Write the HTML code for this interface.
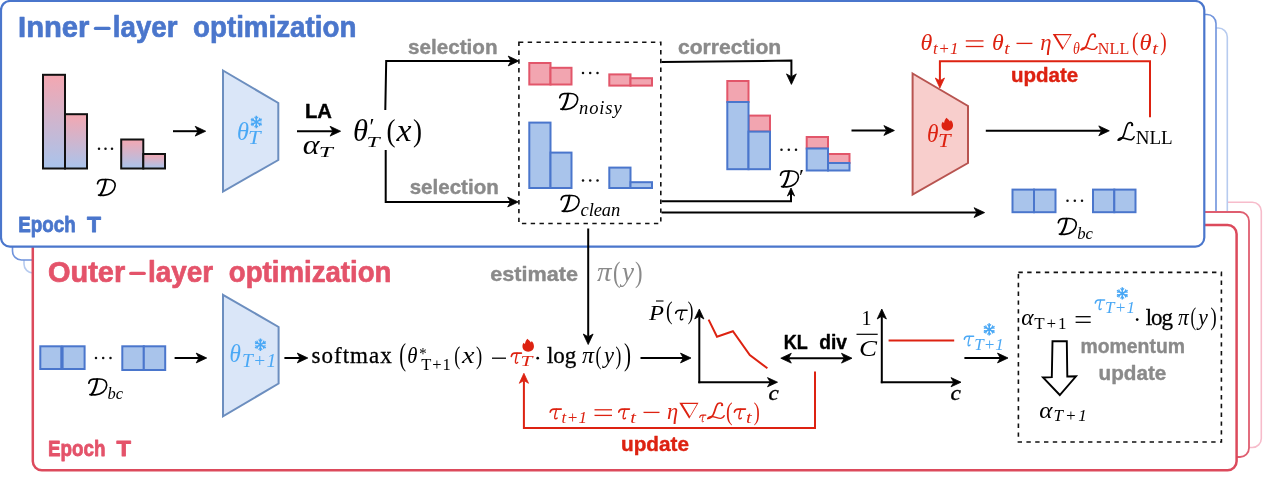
<!DOCTYPE html>
<html><head><meta charset="utf-8"><title>diagram</title>
<style>html,body{margin:0;padding:0;background:#fff;}svg{display:block}text{white-space:pre}</style></head>
<body><svg style="will-change:transform" width="1268" height="480" viewBox="0 0 1268 480">
<rect width="1268" height="480" fill="#fff"/>
<defs>
<linearGradient id="pb" x1="0" y1="0" x2="0" y2="1"><stop offset="0" stop-color="#f4a7b1"/><stop offset="1" stop-color="#a9c4ec"/></linearGradient>
</defs>
<rect x="57.5" y="202.3" width="1203.8" height="245.2" rx="9" ry="9" fill="#fff" stroke="#f7bccb" stroke-width="1.6"/>
<rect x="24" y="28" width="1203.3" height="245.0" rx="9" ry="9" fill="#fff" stroke="#b7cbef" stroke-width="1.6"/>
<rect x="12.5" y="14.5" width="1203.5" height="245.5" rx="9" ry="9" fill="#fff" stroke="#6f93dc" stroke-width="1.6"/>
<rect x="45" y="212" width="1204.0" height="245.0" rx="9" ry="9" fill="#fff" stroke="#df5e70" stroke-width="1.8"/>
<rect x="32.8" y="225" width="1203.8" height="245.3" rx="9" ry="9" fill="#fff" stroke="#dc4a5c" stroke-width="2.5"/>
<rect x="1" y="1" width="1203.3" height="245.6" rx="9" ry="9" fill="#fff" stroke="#4a76cc" stroke-width="2.2"/>
<text x="18" y="37.3" font-family="Liberation Sans, sans-serif" font-weight="bold" font-size="29.5" fill="#4a76cc" stroke="#4a76cc" stroke-width="0.7" stroke-linejoin="round" textLength="71.5" lengthAdjust="spacingAndGlyphs">Inner</text>
<line x1="95.5" y1="28.4" x2="109" y2="28.4" stroke="#4a76cc" stroke-width="3.4" stroke-linecap="round"/>
<text x="112.8" y="37.3" font-family="Liberation Sans, sans-serif" font-weight="bold" font-size="29.5" fill="#4a76cc" stroke="#4a76cc" stroke-width="0.7" stroke-linejoin="round" textLength="64.7" lengthAdjust="spacingAndGlyphs">layer</text>
<text x="193" y="37.3" font-family="Liberation Sans, sans-serif" font-weight="bold" font-size="29.5" fill="#4a76cc" stroke="#4a76cc" stroke-width="0.7" stroke-linejoin="round" textLength="163.4" lengthAdjust="spacingAndGlyphs">optimization</text>
<text x="48" y="282.3" font-family="Liberation Sans, sans-serif" font-weight="bold" font-size="29.5" fill="#e4536a" stroke="#e4536a" stroke-width="0.7" stroke-linejoin="round" textLength="77.2" lengthAdjust="spacingAndGlyphs">Outer</text>
<line x1="130.8" y1="273.4" x2="144.2" y2="273.4" stroke="#e4536a" stroke-width="3.4" stroke-linecap="round"/>
<text x="147.9" y="282.3" font-family="Liberation Sans, sans-serif" font-weight="bold" font-size="29.5" fill="#e4536a" stroke="#e4536a" stroke-width="0.7" stroke-linejoin="round" textLength="65.3" lengthAdjust="spacingAndGlyphs">layer</text>
<text x="228.8" y="282.3" font-family="Liberation Sans, sans-serif" font-weight="bold" font-size="29.5" fill="#e4536a" stroke="#e4536a" stroke-width="0.7" stroke-linejoin="round" textLength="162.7" lengthAdjust="spacingAndGlyphs">optimization</text>
<text x="18.2" y="232" font-family="Liberation Sans, sans-serif" font-weight="bold" font-size="22.5" fill="#4a76cc" stroke="#4a76cc" stroke-width="0.8" stroke-linejoin="round" textLength="57.5" lengthAdjust="spacingAndGlyphs">Epoch</text>
<text x="87" y="232" font-family="Liberation Sans, sans-serif" font-weight="bold" font-size="22.5" fill="#4a76cc" stroke="#4a76cc" stroke-width="0.8" stroke-linejoin="round" textLength="14.0" lengthAdjust="spacingAndGlyphs">T</text>
<text x="48" y="456" font-family="Liberation Sans, sans-serif" font-weight="bold" font-size="22.5" fill="#e4536a" stroke="#e4536a" stroke-width="0.8" stroke-linejoin="round" textLength="57.5" lengthAdjust="spacingAndGlyphs">Epoch</text>
<text x="116.5" y="456" font-family="Liberation Sans, sans-serif" font-weight="bold" font-size="22.5" fill="#e4536a" stroke="#e4536a" stroke-width="0.8" stroke-linejoin="round" textLength="14.5" lengthAdjust="spacingAndGlyphs">T</text>
<rect x="43.0" y="74.8" width="22.0" height="93.7" fill="url(#pb)" stroke="#111" stroke-width="2" />
<rect x="65.0" y="114.2" width="22.0" height="54.3" fill="url(#pb)" stroke="#111" stroke-width="2" />
<rect x="121.2" y="139.5" width="22.1" height="29.0" fill="url(#pb)" stroke="#111" stroke-width="2" />
<rect x="143.3" y="154.0" width="21.7" height="14.5" fill="url(#pb)" stroke="#111" stroke-width="2" />
<circle cx="99.0" cy="148.8" r="1.25" fill="#111"/>
<circle cx="105.5" cy="148.8" r="1.25" fill="#111"/>
<circle cx="112.0" cy="148.8" r="1.25" fill="#111"/>
<g transform="translate(97,196) scale(0.1682,0.1700)" fill="none" stroke="#000" stroke-linecap="round" stroke-linejoin="round"><path d="M52,-95 C47,-60 37,-30 19,-5" stroke-width="13"/><path d="M3,-72 C6,-88 15,-95 30,-96 L62,-97 C92,-98 110,-84 108,-60 C105,-30 78,-4 40,-4 L9,-5" stroke-width="9.5"/></g>
<polyline points="173.0,131.2 198.0,131.2" fill="none" stroke="#000" stroke-width="2" stroke-linejoin="miter"/>
<polygon points="205.7,131.2 195.2,136.1 198.0,131.2 195.2,126.3" fill="#000" stroke="#000" stroke-width="0.8" stroke-linejoin="miter"/>
<polygon points="223,70.5 278.3,103 278.3,160 223,191.5" fill="#dae6f8" stroke="#6c8ebf" stroke-width="2"/>
<text x="237" y="139.7" font-family="Liberation Serif, serif" font-style="italic" font-size="26" fill="#4aa8f5" textLength="12.0" lengthAdjust="spacingAndGlyphs">θ</text>
<text transform="matrix(0.2262,0,0,0.1802,248.03,144.00)" x="0" y="0" font-family="Liberation Serif, serif" font-style="italic" font-size="100" fill="#4aa8f5">T</text>
<path d="M256.30,115.80L256.30,128.20 M261.67,118.90L250.93,125.10 M261.67,125.10L250.93,118.90" stroke="#4aa8f5" stroke-width="1.55" fill="none"/>
<path d="M256.30,125.10L254.81,126.76 M256.30,125.10L257.79,126.76 M256.30,118.90L257.79,117.24 M256.30,118.90L254.81,117.24 M253.62,123.55L251.43,123.09 M253.62,123.55L252.93,125.67 M258.98,120.45L261.17,120.91 M258.98,120.45L259.67,118.33 M253.62,120.45L252.93,118.33 M253.62,120.45L251.43,120.91 M258.98,123.55L259.67,125.67 M258.98,123.55L261.17,123.09" stroke="#4aa8f5" stroke-width="1.15" fill="none" stroke-linecap="round"/>
<text x="305" y="118" font-family="Liberation Sans, sans-serif" font-weight="bold" font-size="21" fill="#000" stroke="#000" stroke-width="0.4" stroke-linejoin="round" textLength="27.0" lengthAdjust="spacingAndGlyphs">LA</text>
<polyline points="297.0,131.2 332.9,131.2" fill="none" stroke="#000" stroke-width="2" stroke-linejoin="miter"/>
<polygon points="340.6,131.2 330.1,136.1 332.9,131.2 330.1,126.3" fill="#000" stroke="#000" stroke-width="0.8" stroke-linejoin="miter"/>
<text x="302.7" y="153.8" font-family="Liberation Serif, serif" font-style="italic" font-size="27" fill="#000" textLength="16.8" lengthAdjust="spacingAndGlyphs">α</text>
<text transform="matrix(0.2516,0,0,0.1557,318.76,157.00)" x="0" y="0" font-family="Liberation Serif, serif" font-style="italic" font-size="100" fill="#000">T</text>
<text x="353" y="140.8" font-family="Liberation Serif, serif" font-style="italic" font-size="30.5" fill="#000" textLength="15.0" lengthAdjust="spacingAndGlyphs">θ</text>
<text x="369.5" y="134" font-family="Liberation Serif, serif" font-style="normal" font-size="23" fill="#000" textLength="5.0" lengthAdjust="spacingAndGlyphs">′</text>
<text transform="matrix(0.2353,0,0,0.1557,366.47,147.20)" x="0" y="0" font-family="Liberation Serif, serif" font-style="italic" font-size="100" fill="#000">T</text>
<text x="386.5" y="140.5" font-family="Liberation Serif, serif" font-style="normal" font-size="31.1" fill="#000" textLength="9.0" lengthAdjust="spacingAndGlyphs">(</text>
<text x="396.5" y="140.8" font-family="Liberation Serif, serif" font-style="italic" font-size="31" fill="#000" textLength="15.0" lengthAdjust="spacingAndGlyphs">x</text>
<text x="413" y="140.5" font-family="Liberation Serif, serif" font-style="normal" font-size="31.1" fill="#000" textLength="9.0" lengthAdjust="spacingAndGlyphs">)</text>
<polyline points="385.3,110.0 386.2,61.0 511.0,61.0" fill="none" stroke="#000" stroke-width="2" stroke-linejoin="miter"/>
<polygon points="518.7,61.0 508.2,65.9 511.0,61.0 508.2,56.1" fill="#000" stroke="#000" stroke-width="0.8" stroke-linejoin="miter"/>
<polyline points="385.7,150.0 385.7,202.0 510.5,202.0" fill="none" stroke="#000" stroke-width="2" stroke-linejoin="miter"/>
<polygon points="518.2,202.0 507.7,206.9 510.5,202.0 507.7,197.1" fill="#000" stroke="#000" stroke-width="0.8" stroke-linejoin="miter"/>
<text x="408" y="54" font-family="Liberation Sans, sans-serif" font-weight="bold" font-size="21" fill="#8a8a8a" stroke="#8a8a8a" stroke-width="0.4" stroke-linejoin="round" textLength="89.5" lengthAdjust="spacingAndGlyphs">selection</text>
<text x="409.7" y="194" font-family="Liberation Sans, sans-serif" font-weight="bold" font-size="21" fill="#8a8a8a" stroke="#8a8a8a" stroke-width="0.4" stroke-linejoin="round" textLength="89.1" lengthAdjust="spacingAndGlyphs">selection</text>
<rect x="518.9" y="42.3" width="141.9" height="181.2" fill="none" stroke="#111" stroke-width="1.6" stroke-dasharray="4.4,4.4"/>
<rect x="529.3" y="63.0" width="21.2" height="21.5" fill="#f2a5b0" stroke="#e2566a" stroke-width="2.0" />
<rect x="550.5" y="67.8" width="21.0" height="16.7" fill="#f2a5b0" stroke="#e2566a" stroke-width="2.0" />
<circle cx="583.0" cy="73" r="1.25" fill="#111"/>
<circle cx="590.2" cy="73" r="1.25" fill="#111"/>
<circle cx="597.5" cy="73" r="1.25" fill="#111"/>
<rect x="609.3" y="74.4" width="21.2" height="11.2" fill="#f2a5b0" stroke="#e2566a" stroke-width="2.0" />
<rect x="630.5" y="78.2" width="21.5" height="7.4" fill="#f2a5b0" stroke="#e2566a" stroke-width="2.0" />
<g transform="translate(559.2,110) scale(0.1709,0.1700)" fill="none" stroke="#000" stroke-linecap="round" stroke-linejoin="round"><path d="M52,-95 C47,-60 37,-30 19,-5" stroke-width="13"/><path d="M3,-72 C6,-88 15,-95 30,-96 L62,-97 C92,-98 110,-84 108,-60 C105,-30 78,-4 40,-4 L9,-5" stroke-width="9.5"/></g>
<text x="579" y="113.8" font-family="Liberation Serif, serif" font-style="italic" font-size="18.5" fill="#000" textLength="42.7" lengthAdjust="spacing">noisy</text>
<rect x="529.3" y="122.6" width="21.2" height="65.4" fill="#a9c4eb" stroke="#4a76cc" stroke-width="2.0" />
<rect x="550.5" y="152.6" width="21.0" height="35.4" fill="#a9c4eb" stroke="#4a76cc" stroke-width="2.0" />
<circle cx="583.0" cy="180.6" r="1.25" fill="#111"/>
<circle cx="590.2" cy="180.6" r="1.25" fill="#111"/>
<circle cx="597.5" cy="180.6" r="1.25" fill="#111"/>
<rect x="609.3" y="167.6" width="21.2" height="20.4" fill="#a9c4eb" stroke="#4a76cc" stroke-width="2.0" />
<rect x="630.5" y="182.2" width="21.5" height="5.8" fill="#a9c4eb" stroke="#4a76cc" stroke-width="2.0" />
<g transform="translate(560.6,212) scale(0.1709,0.1700)" fill="none" stroke="#000" stroke-linecap="round" stroke-linejoin="round"><path d="M52,-95 C47,-60 37,-30 19,-5" stroke-width="13"/><path d="M3,-72 C6,-88 15,-95 30,-96 L62,-97 C92,-98 110,-84 108,-60 C105,-30 78,-4 40,-4 L9,-5" stroke-width="9.5"/></g>
<text x="580.5" y="215.8" font-family="Liberation Serif, serif" font-style="italic" font-size="18.5" fill="#000" textLength="39.8" lengthAdjust="spacing">clean</text>
<text x="677.9" y="53.6" font-family="Liberation Sans, sans-serif" font-weight="bold" font-size="21" fill="#8a8a8a" stroke="#8a8a8a" stroke-width="0.4" stroke-linejoin="round" textLength="103.4" lengthAdjust="spacingAndGlyphs">correction</text>
<polyline points="661.5,62.0 791.4,60.6 791.4,76.7" fill="none" stroke="#000" stroke-width="2" stroke-linejoin="miter"/>
<polygon points="791.4,84.4 786.5,73.9 791.4,76.7 796.3,73.9" fill="#000" stroke="#000" stroke-width="0.8" stroke-linejoin="miter"/>
<rect x="727.3" y="81.0" width="21.2" height="21.0" fill="#f2a5b0" stroke="#e2566a" stroke-width="2.0" />
<rect x="748.5" y="115.6" width="21.5" height="16.0" fill="#f2a5b0" stroke="#e2566a" stroke-width="2.0" />
<rect x="727.3" y="102.0" width="21.2" height="67.2" fill="#a9c4eb" stroke="#4a76cc" stroke-width="2.0" />
<rect x="748.5" y="131.6" width="21.5" height="37.6" fill="#a9c4eb" stroke="#4a76cc" stroke-width="2.0" />
<circle cx="781.5" cy="149.8" r="1.25" fill="#111"/>
<circle cx="788.8" cy="149.8" r="1.25" fill="#111"/>
<circle cx="796.0" cy="149.8" r="1.25" fill="#111"/>
<rect x="806.7" y="137.0" width="21.3" height="11.5" fill="#f2a5b0" stroke="#e2566a" stroke-width="2.0" />
<rect x="828.0" y="154.0" width="21.5" height="9.0" fill="#f2a5b0" stroke="#e2566a" stroke-width="2.0" />
<rect x="806.7" y="148.5" width="21.3" height="22.0" fill="#a9c4eb" stroke="#4a76cc" stroke-width="2.0" />
<rect x="828.0" y="163.0" width="21.5" height="7.5" fill="#a9c4eb" stroke="#4a76cc" stroke-width="2.0" />
<g transform="translate(780,187.5) scale(0.1709,0.1700)" fill="none" stroke="#000" stroke-linecap="round" stroke-linejoin="round"><path d="M52,-95 C47,-60 37,-30 19,-5" stroke-width="13"/><path d="M3,-72 C6,-88 15,-95 30,-96 L62,-97 C92,-98 110,-84 108,-60 C105,-30 78,-4 40,-4 L9,-5" stroke-width="9.5"/></g>
<text x="799" y="184" font-family="Liberation Serif, serif" font-style="normal" font-size="20" fill="#000" textLength="5.0" lengthAdjust="spacingAndGlyphs">′</text>
<polyline points="661.5,201.3 791.0,201.3 791.0,193.2" fill="none" stroke="#000" stroke-width="2" stroke-linejoin="miter"/>
<polygon points="791.0,188.0 794.6,196.0 791.0,193.2 787.4,196.0" fill="#000" stroke="#000" stroke-width="0.8" stroke-linejoin="miter"/>
<polyline points="661.5,212.6 976.9,212.6" fill="none" stroke="#000" stroke-width="2" stroke-linejoin="miter"/>
<polygon points="984.6,212.6 974.1,217.5 976.9,212.6 974.1,207.7" fill="#000" stroke="#000" stroke-width="0.8" stroke-linejoin="miter"/>
<polyline points="851.5,130.5 886.7,130.5" fill="none" stroke="#000" stroke-width="2" stroke-linejoin="miter"/>
<polygon points="894.4,130.5 883.9,135.4 886.7,130.5 883.9,125.6" fill="#000" stroke="#000" stroke-width="0.8" stroke-linejoin="miter"/>
<polygon points="912.6,73.5 968,106 968,163 912.6,194.5" fill="#f8cecc" stroke="#b85450" stroke-width="2"/>
<text x="927" y="142.3" font-family="Liberation Serif, serif" font-style="italic" font-size="26" fill="#dd2211" textLength="11.5" lengthAdjust="spacingAndGlyphs">θ</text>
<text transform="matrix(0.2262,0,0,0.1817,938.03,146.70)" x="0" y="0" font-family="Liberation Serif, serif" font-style="italic" font-size="100" fill="#dd2211">T</text>
<g transform="translate(947.3,124.2) scale(1.15)"><path d="M-0.6,-5.7 C0.3,-4.6 1.6,-3.6 2.4,-2.4 C2.7,-2.8 2.9,-3.2 3,-3.6 C4.4,-2.4 5,-0.6 5,1 C5,3.8 2.8,5.7 0,5.7 C-2.8,5.7 -5,3.8 -5,1 C-5,-0.4 -4.6,-1.4 -3.9,-2.2 C-3.6,-1.6 -3.2,-1.2 -2.8,-1 C-2.6,-3 -1.8,-4.6 -0.6,-5.7 Z" fill="#dd2211"/></g>
<polyline points="985.8,130.8 1101.6,130.8" fill="none" stroke="#000" stroke-width="2" stroke-linejoin="miter"/>
<polygon points="1109.3,130.8 1098.8,135.7 1101.6,130.8 1098.8,125.9" fill="#000" stroke="#000" stroke-width="0.8" stroke-linejoin="miter"/>
<g transform="translate(1117.5,141) scale(0.1889,0.1900)" fill="none" stroke="#000" stroke-linecap="round" stroke-linejoin="round"><path d="M79,-84 C80,-96 68,-100 58,-94 C44,-84 43,-50 31,-26 C25,-14 15,-5 4,-5" stroke-width="9"/><path d="M4,-5 C8,-15 22,-19 36,-15 C52,-10 64,-4 74,-7 C82,-10 86,-16 88,-22" stroke-width="8"/><circle cx="77" cy="-83" r="6" fill="#000" stroke="none"/></g>
<text x="1135.8" y="144.2" font-family="Liberation Serif, serif" font-style="normal" font-size="19" fill="#000" textLength="36.7" lengthAdjust="spacing">NLL</text>
<polyline points="1150.0,117.2 1150.0,61.2 939.9,61.2 939.9,80.8" fill="none" stroke="#dd2211" stroke-width="2" stroke-linejoin="miter"/>
<polygon points="939.9,88.0 935.3,78.0 939.9,80.8 944.5,78.0" fill="#dd2211" stroke="#dd2211" stroke-width="0.8" stroke-linejoin="miter"/>
<text x="1011" y="82.3" font-family="Liberation Sans, sans-serif" font-weight="bold" font-size="21" fill="#dd2211" stroke="#dd2211" stroke-width="0.4" stroke-linejoin="round" textLength="67.2" lengthAdjust="spacingAndGlyphs">update</text>
<text x="920.6" y="50" font-family="Liberation Serif, serif" font-style="italic" font-size="23.5" fill="#dd2211" textLength="11.8" lengthAdjust="spacingAndGlyphs">θ</text>
<text x="933" y="53.7" font-family="Liberation Serif, serif" font-style="italic" font-size="17" fill="#dd2211" textLength="25.5" lengthAdjust="spacing">t+1</text>
<line x1="965.8" y1="40.90" x2="983.5" y2="40.90" stroke="#dd2211" stroke-width="1.3"/>
<line x1="965.8" y1="46.50" x2="983.5" y2="46.50" stroke="#dd2211" stroke-width="1.3"/>
<text x="992" y="50" font-family="Liberation Serif, serif" font-style="italic" font-size="23.5" fill="#dd2211" textLength="11.7" lengthAdjust="spacingAndGlyphs">θ</text>
<text x="1004.3" y="53.7" font-family="Liberation Serif, serif" font-style="italic" font-size="16" fill="#dd2211" textLength="5.4" lengthAdjust="spacingAndGlyphs">t</text>
<line x1="1016.5" y1="43.4" x2="1032.4" y2="43.4" stroke="#dd2211" stroke-width="1.3"/>
<text x="1040.3" y="50" font-family="Liberation Serif, serif" font-style="italic" font-size="23.5" fill="#dd2211" textLength="11.3" lengthAdjust="spacingAndGlyphs">η</text>
<path d="M1052.7,34 L1071.8,34 L1062.5,50.1 Z M1055.9,35.3 L1070.2,35.3 L1063.2,47.5 Z" fill="#dd2211" fill-rule="evenodd"/>
<text x="1073" y="53.7" font-family="Liberation Serif, serif" font-style="italic" font-size="16.5" fill="#dd2211" textLength="6.8" lengthAdjust="spacingAndGlyphs">θ</text>
<g transform="translate(1080.4,50.5) scale(0.1889,0.1700)" fill="none" stroke="#dd2211" stroke-linecap="round" stroke-linejoin="round"><path d="M79,-84 C80,-96 68,-100 58,-94 C44,-84 43,-50 31,-26 C25,-14 15,-5 4,-5" stroke-width="9"/><path d="M4,-5 C8,-15 22,-19 36,-15 C52,-10 64,-4 74,-7 C82,-10 86,-16 88,-22" stroke-width="8"/><circle cx="77" cy="-83" r="6" fill="#dd2211" stroke="none"/></g>
<text x="1097.8" y="53.7" font-family="Liberation Serif, serif" font-style="normal" font-size="16" fill="#dd2211" textLength="31.5" lengthAdjust="spacing">NLL</text>
<text x="1131.9" y="50.4" font-family="Liberation Serif, serif" font-style="normal" font-size="26.0" fill="#dd2211" textLength="6.4" lengthAdjust="spacingAndGlyphs">(</text>
<text x="1139.6" y="50" font-family="Liberation Serif, serif" font-style="italic" font-size="23.5" fill="#dd2211" textLength="12.1" lengthAdjust="spacingAndGlyphs">θ</text>
<text x="1152.3" y="53.7" font-family="Liberation Serif, serif" font-style="italic" font-size="16" fill="#dd2211" textLength="5.7" lengthAdjust="spacingAndGlyphs">t</text>
<text x="1160.2" y="50.4" font-family="Liberation Serif, serif" font-style="normal" font-size="26.0" fill="#dd2211" textLength="6.4" lengthAdjust="spacingAndGlyphs">)</text>
<rect x="1012.5" y="189.6" width="21.5" height="22.6" fill="#a9c4eb" stroke="#4a76cc" stroke-width="2.0" />
<rect x="1034.0" y="189.6" width="21.5" height="22.6" fill="#a9c4eb" stroke="#4a76cc" stroke-width="2.0" />
<circle cx="1067.5" cy="200.8" r="1.25" fill="#111"/>
<circle cx="1074.8" cy="200.8" r="1.25" fill="#111"/>
<circle cx="1082.0" cy="200.8" r="1.25" fill="#111"/>
<rect x="1093.0" y="189.6" width="21.3" height="22.6" fill="#a9c4eb" stroke="#4a76cc" stroke-width="2.0" />
<rect x="1114.3" y="189.6" width="21.2" height="22.6" fill="#a9c4eb" stroke="#4a76cc" stroke-width="2.0" />
<g transform="translate(1057.8,235) scale(0.1709,0.1700)" fill="none" stroke="#000" stroke-linecap="round" stroke-linejoin="round"><path d="M52,-95 C47,-60 37,-30 19,-5" stroke-width="13"/><path d="M3,-72 C6,-88 15,-95 30,-96 L62,-97 C92,-98 110,-84 108,-60 C105,-30 78,-4 40,-4 L9,-5" stroke-width="9.5"/></g>
<text x="1077.2" y="238.6" font-family="Liberation Serif, serif" font-style="italic" font-size="17.5" fill="#000" textLength="15.8" lengthAdjust="spacingAndGlyphs">bc</text>
<rect x="40.3" y="346.3" width="21.0" height="22.7" fill="#a9c4eb" stroke="#4a76cc" stroke-width="2.0" />
<rect x="62.6" y="346.3" width="22.0" height="22.7" fill="#a9c4eb" stroke="#4a76cc" stroke-width="2.0" />
<circle cx="96.0" cy="358" r="1.25" fill="#111"/>
<circle cx="103.2" cy="358" r="1.25" fill="#111"/>
<circle cx="110.5" cy="358" r="1.25" fill="#111"/>
<rect x="122.3" y="346.3" width="21.5" height="23.7" fill="#a9c4eb" stroke="#4a76cc" stroke-width="2.0" />
<rect x="143.8" y="346.3" width="21.4" height="23.7" fill="#a9c4eb" stroke="#4a76cc" stroke-width="2.0" />
<g transform="translate(88.3,395.5) scale(0.1709,0.1700)" fill="none" stroke="#000" stroke-linecap="round" stroke-linejoin="round"><path d="M52,-95 C47,-60 37,-30 19,-5" stroke-width="13"/><path d="M3,-72 C6,-88 15,-95 30,-96 L62,-97 C92,-98 110,-84 108,-60 C105,-30 78,-4 40,-4 L9,-5" stroke-width="9.5"/></g>
<text x="107.6" y="399" font-family="Liberation Serif, serif" font-style="italic" font-size="17.5" fill="#000" textLength="15.6" lengthAdjust="spacingAndGlyphs">bc</text>
<polyline points="174.6,358.0 199.0,358.0" fill="none" stroke="#000" stroke-width="2" stroke-linejoin="miter"/>
<polygon points="206.7,358.0 196.2,362.9 199.0,358.0 196.2,353.1" fill="#000" stroke="#000" stroke-width="0.8" stroke-linejoin="miter"/>
<polygon points="223,294.8 278.6,327 278.6,383.5 223,416.3" fill="#dae6f8" stroke="#6c8ebf" stroke-width="2"/>
<text x="229.4" y="362.3" font-family="Liberation Serif, serif" font-style="italic" font-size="26" fill="#4aa8f5" textLength="11.4" lengthAdjust="spacingAndGlyphs">θ</text>
<text x="241.9" y="366.9" font-family="Liberation Serif, serif" font-style="italic" font-size="19.5" fill="#4aa8f5" textLength="34.4" lengthAdjust="spacing">T+1</text>
<path d="M260.40,338.50L260.40,350.90 M265.77,341.60L255.03,347.80 M265.77,347.80L255.03,341.60" stroke="#4aa8f5" stroke-width="1.55" fill="none"/>
<path d="M260.40,347.80L258.91,349.46 M260.40,347.80L261.89,349.46 M260.40,341.60L261.89,339.94 M260.40,341.60L258.91,339.94 M257.72,346.25L255.53,345.79 M257.72,346.25L257.03,348.37 M263.08,343.15L265.27,343.61 M263.08,343.15L263.77,341.03 M257.72,343.15L257.03,341.03 M257.72,343.15L255.53,343.61 M263.08,346.25L263.77,348.37 M263.08,346.25L265.27,345.79" stroke="#4aa8f5" stroke-width="1.15" fill="none" stroke-linecap="round"/>
<polyline points="284.4,358.0 300.1,358.0" fill="none" stroke="#000" stroke-width="2" stroke-linejoin="miter"/>
<polygon points="307.8,358.0 297.3,362.9 300.1,358.0 297.3,353.1" fill="#000" stroke="#000" stroke-width="0.8" stroke-linejoin="miter"/>
<text x="311.4" y="363.3" font-family="Liberation Serif, serif" font-style="normal" font-size="23" fill="#000" stroke="#000" stroke-width="0.3" textLength="80.4" lengthAdjust="spacing">softmax</text>
<text x="399.2" y="365.2" font-family="Liberation Serif, serif" font-style="normal" font-size="30.7" fill="#000" textLength="6.8" lengthAdjust="spacingAndGlyphs">(</text>
<text x="407.3" y="363.3" font-family="Liberation Serif, serif" font-style="italic" font-size="22.5" fill="#000" textLength="10.2" lengthAdjust="spacingAndGlyphs">θ</text>
<text transform="matrix(0.1481,0,0,0.1633,419.30,359.49)" x="0" y="0" font-family="Liberation Serif, serif" font-style="normal" font-size="100" fill="#000">*</text>
<text x="421.3" y="370" font-family="Liberation Serif, serif" font-style="normal" font-size="16.5" fill="#000" textLength="29.5" lengthAdjust="spacing">T+1</text>
<text x="454.2" y="364.2" font-family="Liberation Serif, serif" font-style="normal" font-size="25.2" fill="#000" textLength="6.0" lengthAdjust="spacingAndGlyphs">(</text>
<text x="462" y="363.3" font-family="Liberation Serif, serif" font-style="italic" font-size="23.5" fill="#000" textLength="12.5" lengthAdjust="spacingAndGlyphs">x</text>
<text x="476" y="364.2" font-family="Liberation Serif, serif" font-style="normal" font-size="25.2" fill="#000" textLength="6.2" lengthAdjust="spacingAndGlyphs">)</text>
<line x1="492" y1="358.2" x2="506" y2="358.2" stroke="#000" stroke-width="1.3"/>
<path d="M511.32,356.33 C511.85,353.63 513.12,353.18 514.82,353.18 L521.39,353.18" fill="none" stroke="#dd2211" stroke-width="1.63" stroke-linecap="round"/>
<path d="M517.04,353.18 C516.51,356.78 515.03,360.39 515.45,362.42 C515.77,363.55 516.94,363.43 517.68,362.42" fill="none" stroke="#dd2211" stroke-width="1.42" stroke-linecap="round"/>
<text transform="matrix(0.2136,0,0,0.1557,520.41,366.20)" x="0" y="0" font-family="Liberation Serif, serif" font-style="italic" font-size="100" fill="#dd2211">T</text>
<g transform="translate(528.2,345.2) scale(1.15)"><path d="M-0.6,-5.7 C0.3,-4.6 1.6,-3.6 2.4,-2.4 C2.7,-2.8 2.9,-3.2 3,-3.6 C4.4,-2.4 5,-0.6 5,1 C5,3.8 2.8,5.7 0,5.7 C-2.8,5.7 -5,3.8 -5,1 C-5,-0.4 -4.6,-1.4 -3.9,-2.2 C-3.6,-1.6 -3.2,-1.2 -2.8,-1 C-2.6,-3 -1.8,-4.6 -0.6,-5.7 Z" fill="#dd2211"/></g>
<circle cx="537.7" cy="358.2" r="1.35" fill="#000"/>
<text x="547" y="363.3" font-family="Liberation Serif, serif" font-style="normal" font-size="23" fill="#000" stroke="#000" stroke-width="0.3" textLength="29.3" lengthAdjust="spacing">log</text>
<text x="582" y="363.3" font-family="Liberation Serif, serif" font-style="italic" font-size="23.5" fill="#000" textLength="12.0" lengthAdjust="spacingAndGlyphs">π</text>
<text x="595.6" y="364.2" font-family="Liberation Serif, serif" font-style="normal" font-size="25.2" fill="#000" textLength="5.9" lengthAdjust="spacingAndGlyphs">(</text>
<text x="604" y="363.3" font-family="Liberation Serif, serif" font-style="italic" font-size="23.5" fill="#000" textLength="10.0" lengthAdjust="spacingAndGlyphs">y</text>
<text x="615.5" y="364.2" font-family="Liberation Serif, serif" font-style="normal" font-size="25.2" fill="#000" textLength="5.8" lengthAdjust="spacingAndGlyphs">)</text>
<text x="624" y="365.0" font-family="Liberation Serif, serif" font-style="normal" font-size="31.3" fill="#000" textLength="7.0" lengthAdjust="spacingAndGlyphs">)</text>
<polyline points="588.2,228.5 588.2,336.8" fill="none" stroke="#000" stroke-width="2" stroke-linejoin="miter"/>
<polygon points="588.2,344.5 583.3,334.0 588.2,336.8 593.1,334.0" fill="#000" stroke="#000" stroke-width="0.8" stroke-linejoin="miter"/>
<text x="490.3" y="281.3" font-family="Liberation Sans, sans-serif" font-weight="bold" font-size="21" fill="#8a8a8a" stroke="#8a8a8a" stroke-width="0.4" stroke-linejoin="round" textLength="87.7" lengthAdjust="spacingAndGlyphs">estimate</text>
<text x="597" y="281.3" font-family="Liberation Serif, serif" font-style="italic" font-size="27" fill="#8a8a8a" textLength="14.5" lengthAdjust="spacingAndGlyphs">π</text>
<text x="613" y="281.5" font-family="Liberation Serif, serif" font-style="normal" font-size="28.8" fill="#8a8a8a" textLength="7.5" lengthAdjust="spacingAndGlyphs">(</text>
<text x="622" y="281.3" font-family="Liberation Serif, serif" font-style="italic" font-size="27" fill="#8a8a8a" textLength="12.0" lengthAdjust="spacingAndGlyphs">y</text>
<text x="635" y="281.5" font-family="Liberation Serif, serif" font-style="normal" font-size="28.8" fill="#8a8a8a" textLength="7.5" lengthAdjust="spacingAndGlyphs">)</text>
<polyline points="640.5,358.0 683.3,358.0" fill="none" stroke="#000" stroke-width="2" stroke-linejoin="miter"/>
<polygon points="691.0,358.0 680.5,362.9 683.3,358.0 680.5,353.1" fill="#000" stroke="#000" stroke-width="0.8" stroke-linejoin="miter"/>
<text x="649" y="319.8" font-family="Liberation Serif, serif" font-style="italic" font-size="21.5" fill="#000" textLength="15.0" lengthAdjust="spacingAndGlyphs">P</text>
<line x1="656" y1="301" x2="663.5" y2="301" stroke="#000" stroke-width="1.1"/>
<text x="666" y="318.8" font-family="Liberation Serif, serif" font-style="normal" font-size="25.0" fill="#000" textLength="6.5" lengthAdjust="spacingAndGlyphs">(</text>
<path d="M675.66,313.26 C676.26,310.72 677.70,310.30 679.62,310.30 L687.06,310.30" fill="none" stroke="#000" stroke-width="1.53" stroke-linecap="round"/>
<path d="M682.14,310.30 C681.54,313.68 679.86,317.07 680.34,318.97 C680.70,320.03 682.02,319.92 682.86,318.97" fill="none" stroke="#000" stroke-width="1.33" stroke-linecap="round"/>
<text x="687.8" y="318.8" font-family="Liberation Serif, serif" font-style="normal" font-size="25.0" fill="#000" textLength="5.7" lengthAdjust="spacingAndGlyphs">)</text>
<polyline points="699.3,383.2 699.3,316.2" fill="none" stroke="#000" stroke-width="2" stroke-linejoin="miter"/>
<polygon points="699.3,309.0 703.9,319.0 699.3,316.2 694.7,319.0" fill="#000" stroke="#000" stroke-width="0.8" stroke-linejoin="miter"/>
<polyline points="698.3,382.2 770.3,382.2" fill="none" stroke="#000" stroke-width="2" stroke-linejoin="miter"/>
<polygon points="777.5,382.2 767.5,386.8 770.3,382.2 767.5,377.6" fill="#000" stroke="#000" stroke-width="0.8" stroke-linejoin="miter"/>
<polyline points="708.6,319.6 717,336.8 732.9,331.2 749.8,355 767.4,368.3" fill="none" stroke="#dd2211" stroke-width="2"/>
<text x="768.5" y="400.4" font-family="Liberation Serif, serif" font-style="italic" font-size="22" fill="#000" stroke="#000" stroke-width="0.4" textLength="10.2" lengthAdjust="spacingAndGlyphs">c</text>
<text x="783.8" y="349.4" font-family="Liberation Sans, sans-serif" font-weight="bold" font-size="21" fill="#000" stroke="#000" stroke-width="0.4" stroke-linejoin="round" textLength="24.0" lengthAdjust="spacingAndGlyphs">KL</text>
<text x="819.2" y="349.4" font-family="Liberation Sans, sans-serif" font-weight="bold" font-size="21" fill="#000" stroke="#000" stroke-width="0.4" stroke-linejoin="round" textLength="27.8" lengthAdjust="spacingAndGlyphs">div</text>
<polyline points="788.5,358.2 844.3,358.2" fill="none" stroke="#000" stroke-width="2" stroke-linejoin="miter"/>
<polygon points="852.0,358.2 841.5,363.1 844.3,358.2 841.5,353.3" fill="#000" stroke="#000" stroke-width="0.8" stroke-linejoin="miter"/>
<polygon points="780.8,358.2 791.3,353.3 788.5,358.2 791.3,363.1" fill="#000" stroke="#000" stroke-width="0.8" stroke-linejoin="miter"/>
<polyline points="815.0,371.4 815.0,428.0 523.9,428.0 523.9,380.5" fill="none" stroke="#dd2211" stroke-width="2" stroke-linejoin="miter"/>
<polygon points="523.9,373.3 528.5,383.3 523.9,380.5 519.3,383.3" fill="#dd2211" stroke="#dd2211" stroke-width="0.8" stroke-linejoin="miter"/>
<text x="621" y="451" font-family="Liberation Sans, sans-serif" font-weight="bold" font-size="21" fill="#dd2211" stroke="#dd2211" stroke-width="0.4" stroke-linejoin="round" textLength="68.0" lengthAdjust="spacingAndGlyphs">update</text>
<path d="M550.15,412.12 C550.74,409.52 552.14,409.09 554.01,409.09 L561.27,409.09" fill="none" stroke="#dd2211" stroke-width="1.57" stroke-linecap="round"/>
<path d="M556.47,409.09 C555.88,412.55 554.25,416.01 554.71,417.95 C555.06,419.04 556.35,418.93 557.17,417.95" fill="none" stroke="#dd2211" stroke-width="1.36" stroke-linecap="round"/>
<text x="561.5" y="423" font-family="Liberation Serif, serif" font-style="italic" font-size="17" fill="#dd2211" textLength="25.5" lengthAdjust="spacing">t+1</text>
<line x1="594.5" y1="409.80" x2="612" y2="409.80" stroke="#dd2211" stroke-width="1.3"/>
<line x1="594.5" y1="415.40" x2="612" y2="415.40" stroke="#dd2211" stroke-width="1.3"/>
<path d="M618.74,412.12 C619.30,409.52 620.66,409.09 622.47,409.09 L629.47,409.09" fill="none" stroke="#dd2211" stroke-width="1.57" stroke-linecap="round"/>
<path d="M624.84,409.09 C624.28,412.55 622.69,416.01 623.15,417.95 C623.49,419.04 624.73,418.93 625.52,417.95" fill="none" stroke="#dd2211" stroke-width="1.36" stroke-linecap="round"/>
<text x="630.3" y="423" font-family="Liberation Serif, serif" font-style="italic" font-size="16" fill="#dd2211" textLength="5.7" lengthAdjust="spacingAndGlyphs">t</text>
<line x1="643.5" y1="412.4" x2="659.5" y2="412.4" stroke="#dd2211" stroke-width="1.3"/>
<text x="667" y="418.8" font-family="Liberation Serif, serif" font-style="italic" font-size="23.5" fill="#dd2211" textLength="11.2" lengthAdjust="spacingAndGlyphs">η</text>
<path d="M679.3,402.8 L698.5,402.8 L689.2,418.8 Z M682.5,404.1 L696.9,404.1 L689.9,416.2 Z" fill="#dd2211" fill-rule="evenodd"/>
<path d="M699.70,417.31 C700.02,415.49 700.80,415.18 701.84,415.18 L705.87,415.18" fill="none" stroke="#dd2211" stroke-width="1.15" stroke-linecap="round"/>
<path d="M703.21,415.18 C702.88,417.61 701.97,420.04 702.23,421.41 C702.42,422.17 703.14,422.09 703.60,421.41" fill="none" stroke="#dd2211" stroke-width="1.00" stroke-linecap="round"/>
<g transform="translate(707,419.4) scale(0.1944,0.1700)" fill="none" stroke="#dd2211" stroke-linecap="round" stroke-linejoin="round"><path d="M79,-84 C80,-96 68,-100 58,-94 C44,-84 43,-50 31,-26 C25,-14 15,-5 4,-5" stroke-width="9"/><path d="M4,-5 C8,-15 22,-19 36,-15 C52,-10 64,-4 74,-7 C82,-10 86,-16 88,-22" stroke-width="8"/><circle cx="77" cy="-83" r="6" fill="#dd2211" stroke="none"/></g>
<text x="726" y="419.6" font-family="Liberation Serif, serif" font-style="normal" font-size="25.9" fill="#dd2211" textLength="6.5" lengthAdjust="spacingAndGlyphs">(</text>
<path d="M734.35,412.12 C734.94,409.52 736.34,409.09 738.21,409.09 L745.47,409.09" fill="none" stroke="#dd2211" stroke-width="1.57" stroke-linecap="round"/>
<path d="M740.67,409.09 C740.08,412.55 738.45,416.01 738.91,417.95 C739.26,419.04 740.55,418.93 741.37,417.95" fill="none" stroke="#dd2211" stroke-width="1.36" stroke-linecap="round"/>
<text x="746" y="423" font-family="Liberation Serif, serif" font-style="italic" font-size="16" fill="#dd2211" textLength="5.7" lengthAdjust="spacingAndGlyphs">t</text>
<text x="753.8" y="419.6" font-family="Liberation Serif, serif" font-style="normal" font-size="25.9" fill="#dd2211" textLength="6.0" lengthAdjust="spacingAndGlyphs">)</text>
<text x="861.5" y="325.4" font-family="Liberation Serif, serif" font-style="normal" font-size="21.5" fill="#000" textLength="10.0" lengthAdjust="spacingAndGlyphs">1</text>
<line x1="856.5" y1="334.3" x2="877.7" y2="334.3" stroke="#000" stroke-width="1.2"/>
<text x="859" y="355.5" font-family="Liberation Serif, serif" font-style="italic" font-size="22.5" fill="#000" textLength="18.0" lengthAdjust="spacingAndGlyphs">C</text>
<polyline points="881.8,383.2 881.8,316.2" fill="none" stroke="#000" stroke-width="2" stroke-linejoin="miter"/>
<polygon points="881.8,309.0 886.4,319.0 881.8,316.2 877.2,319.0" fill="#000" stroke="#000" stroke-width="0.8" stroke-linejoin="miter"/>
<polyline points="880.8,382.2 953.8,382.2" fill="none" stroke="#000" stroke-width="2" stroke-linejoin="miter"/>
<polygon points="961.0,382.2 951.0,386.8 953.8,382.2 951.0,377.6" fill="#000" stroke="#000" stroke-width="0.8" stroke-linejoin="miter"/>
<line x1="888.6" y1="340.6" x2="954.2" y2="340.6" stroke="#dd2211" stroke-width="2"/>
<text x="950.5" y="400.4" font-family="Liberation Serif, serif" font-style="italic" font-size="22" fill="#000" stroke="#000" stroke-width="0.4" textLength="10.3" lengthAdjust="spacingAndGlyphs">c</text>
<path d="M964.29,339.26 C964.78,336.72 965.96,336.30 967.53,336.30 L973.60,336.30" fill="none" stroke="#4aa8f5" stroke-width="1.53" stroke-linecap="round"/>
<path d="M969.59,336.30 C969.10,339.68 967.72,343.07 968.12,344.97 C968.41,346.03 969.49,345.92 970.17,344.97" fill="none" stroke="#4aa8f5" stroke-width="1.33" stroke-linecap="round"/>
<text x="974.2" y="349.5" font-family="Liberation Serif, serif" font-style="italic" font-size="17" fill="#4aa8f5" textLength="29.6" lengthAdjust="spacing">T+1</text>
<path d="M989.20,323.20L989.20,335.60 M994.57,326.30L983.83,332.50 M994.57,332.50L983.83,326.30" stroke="#4aa8f5" stroke-width="1.55" fill="none"/>
<path d="M989.20,332.50L987.71,334.16 M989.20,332.50L990.69,334.16 M989.20,326.30L990.69,324.64 M989.20,326.30L987.71,324.64 M986.52,330.95L984.33,330.49 M986.52,330.95L985.83,333.07 M991.88,327.85L994.07,328.31 M991.88,327.85L992.57,325.73 M986.52,327.85L985.83,325.73 M986.52,327.85L984.33,328.31 M991.88,330.95L992.57,333.07 M991.88,330.95L994.07,330.49" stroke="#4aa8f5" stroke-width="1.15" fill="none" stroke-linecap="round"/>
<polyline points="964.4,358.0 1000.3,358.0" fill="none" stroke="#000" stroke-width="2" stroke-linejoin="miter"/>
<polygon points="1008.0,358.0 997.5,362.9 1000.3,358.0 997.5,353.1" fill="#000" stroke="#000" stroke-width="0.8" stroke-linejoin="miter"/>
<rect x="1018.4" y="272.4" width="203" height="169.6" fill="none" stroke="#111" stroke-width="1.6" stroke-dasharray="4.4,4.4"/>
<text x="1021.3" y="325" font-family="Liberation Serif, serif" font-style="italic" font-size="24" fill="#000" textLength="12.3" lengthAdjust="spacingAndGlyphs">α</text>
<text x="1034.3" y="328.6" font-family="Liberation Serif, serif" font-style="normal" font-size="17" fill="#000" textLength="32.1" lengthAdjust="spacing">T+1</text>
<line x1="1075.6" y1="316.70" x2="1090.7" y2="316.70" stroke="#000" stroke-width="1.3"/>
<line x1="1075.6" y1="322.30" x2="1090.7" y2="322.30" stroke="#000" stroke-width="1.3"/>
<path d="M1095.29,303.06 C1095.78,300.52 1096.96,300.10 1098.53,300.10 L1104.60,300.10" fill="none" stroke="#4aa8f5" stroke-width="1.53" stroke-linecap="round"/>
<path d="M1100.59,300.10 C1100.10,303.48 1098.72,306.87 1099.12,308.77 C1099.41,309.83 1100.49,309.72 1101.17,308.77" fill="none" stroke="#4aa8f5" stroke-width="1.33" stroke-linecap="round"/>
<text x="1105" y="313" font-family="Liberation Serif, serif" font-style="italic" font-size="17" fill="#4aa8f5" textLength="30.0" lengthAdjust="spacing">T+1</text>
<path d="M1122.30,287.20L1122.30,299.60 M1127.67,290.30L1116.93,296.50 M1127.67,296.50L1116.93,290.30" stroke="#4aa8f5" stroke-width="1.55" fill="none"/>
<path d="M1122.30,296.50L1120.81,298.16 M1122.30,296.50L1123.79,298.16 M1122.30,290.30L1123.79,288.64 M1122.30,290.30L1120.81,288.64 M1119.62,294.95L1117.43,294.49 M1119.62,294.95L1118.93,297.07 M1124.98,291.85L1127.17,292.31 M1124.98,291.85L1125.67,289.73 M1119.62,291.85L1118.93,289.73 M1119.62,291.85L1117.43,292.31 M1124.98,294.95L1125.67,297.07 M1124.98,294.95L1127.17,294.49" stroke="#4aa8f5" stroke-width="1.15" fill="none" stroke-linecap="round"/>
<circle cx="1137.2" cy="319.6" r="1.35" fill="#000"/>
<text x="1145.8" y="324.8" font-family="Liberation Serif, serif" font-style="normal" font-size="23" fill="#000" stroke="#000" stroke-width="0.3" textLength="27.2" lengthAdjust="spacing">log</text>
<text x="1178" y="324.8" font-family="Liberation Serif, serif" font-style="italic" font-size="23.5" fill="#000" textLength="10.7" lengthAdjust="spacingAndGlyphs">π</text>
<text x="1190.4" y="325.1" font-family="Liberation Serif, serif" font-style="normal" font-size="25.0" fill="#000" textLength="5.6" lengthAdjust="spacingAndGlyphs">(</text>
<text x="1198.2" y="324.8" font-family="Liberation Serif, serif" font-style="italic" font-size="23.5" fill="#000" textLength="9.6" lengthAdjust="spacingAndGlyphs">y</text>
<text x="1210.4" y="325.1" font-family="Liberation Serif, serif" font-style="normal" font-size="25.0" fill="#000" textLength="6.2" lengthAdjust="spacingAndGlyphs">)</text>
<text x="1080.5" y="353.3" font-family="Liberation Sans, sans-serif" font-weight="bold" font-size="21" fill="#8a8a8a" stroke="#8a8a8a" stroke-width="0.4" stroke-linejoin="round" textLength="104.5" lengthAdjust="spacingAndGlyphs">momentum</text>
<text x="1098.5" y="380" font-family="Liberation Sans, sans-serif" font-weight="bold" font-size="21" fill="#8a8a8a" stroke="#8a8a8a" stroke-width="0.4" stroke-linejoin="round" textLength="67.8" lengthAdjust="spacingAndGlyphs">update</text>
<polygon points="1052.5,341.3 1066.8,341.3 1067.3,376.5 1076,376.3 1059.8,395 1043,377.5 1051.8,377.2" fill="#fff" stroke="#000" stroke-width="1.9" stroke-linejoin="miter"/>
<text x="1039.3" y="417.5" font-family="Liberation Serif, serif" font-style="italic" font-size="24" fill="#000" textLength="13.2" lengthAdjust="spacingAndGlyphs">α</text>
<text x="1053.5" y="420.5" font-family="Liberation Serif, serif" font-style="italic" font-size="17" fill="#000" textLength="33.3" lengthAdjust="spacing">T+1</text>
</svg></body></html>
